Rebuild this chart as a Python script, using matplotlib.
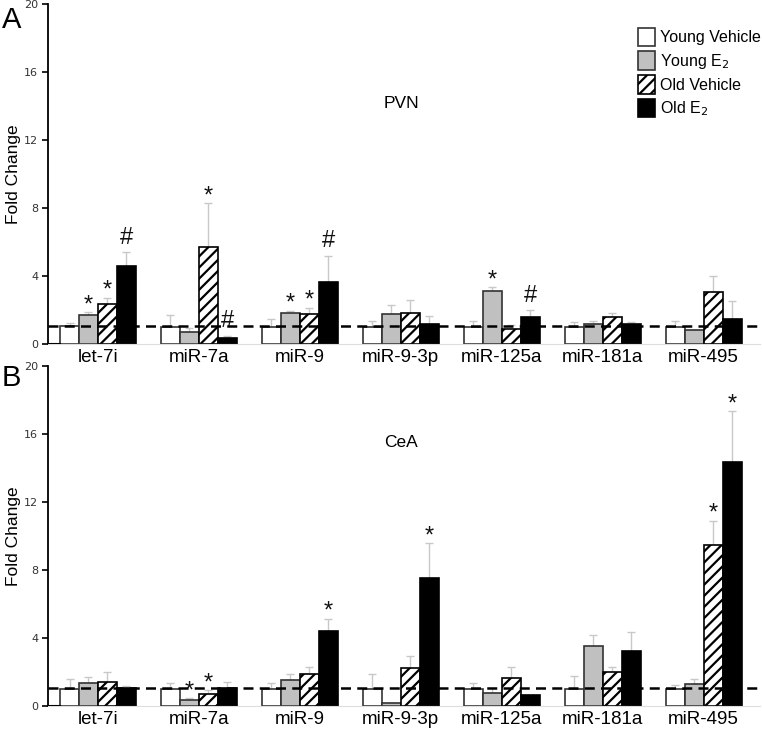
import numpy as np
import matplotlib
matplotlib.use("Agg")
import matplotlib.pyplot as plt
from matplotlib.patches import Patch

plt.rcParams["font.family"] = "Liberation Sans"
plt.rcParams["hatch.linewidth"] = 1.6

# data
mirnas = ["let-7i", "miR-7a", "miR-9", "miR-9-3p", "miR-125a", "miR-181a", "miR-495"]
groups = ["Young Vehicle", "Young E$_2$", "Old Vehicle", "Old E$_2$"]

# PVN means / upper errors (order: young veh, young E2, old veh, old E2)
pvn_young_veh = [1.05, 1.02, 1.0, 1.0, 1.0, 1.0, 1.0]
pvn_young_e2 = [1.71, 0.73, 1.8, 1.76, 3.12, 1.2, 0.82]
pvn_old_veh = [2.35, 5.69, 1.76, 1.8, 0.86, 1.6, 3.06]
pvn_old_e2 = [4.6, 0.35, 3.67, 1.2, 1.6, 1.2, 1.45]
pvn_err_young_veh = [0.2, 0.68, 0.45, 0.37, 0.37, 0.3, 0.37]
pvn_err_young_e2 = [0.19, 0.19, 0.16, 0.54, 0.21, 0.15, 0.0]
pvn_err_old_veh = [0.38, 2.6, 0.39, 0.8, 0.24, 0.2, 0.94]
pvn_err_old_e2 = [0.8, 0.15, 1.53, 0.47, 0.4, 0.1, 1.08]
pvn_marks = [["", "*", "*", "#"], ["", "", "*", "#"], ["", "*", "*", "#"],
             ["", "", "", ""], ["", "*", "", "#"], ["", "", "", ""], ["", "", "", ""]]

# CeA
cea_young_veh = [1.02, 1.0, 1.0, 1.0, 1.0, 1.0, 1.0]
cea_young_e2 = [1.35, 0.37, 1.55, 0.2, 0.77, 3.5, 1.28]
cea_old_veh = [1.39, 0.73, 1.9, 2.22, 1.67, 2.02, 9.46]
cea_old_e2 = [1.06, 1.08, 4.42, 7.55, 0.67, 3.26, 14.35]
cea_err_young_veh = [0.58, 0.35, 0.35, 0.9, 0.35, 0.75, 0.25]
cea_err_young_e2 = [0.35, 0.08, 0.31, 0.0, 0.31, 0.68, 0.32]
cea_err_old_veh = [0.61, 0.19, 0.4, 0.7, 0.63, 0.28, 1.44]
cea_err_old_e2 = [0.14, 0.31, 0.72, 2.03, 0.0, 1.12, 2.98]
cea_marks = [["", "", "", ""], ["", "*", "*", ""], ["", "", "", "*"],
             ["", "", "", "*"], ["", "", "", ""], ["", "", "", ""], ["", "", "*", "*"]]

styles = [
    dict(facecolor="white", edgecolor="#333333", hatch=None),
    dict(facecolor="#c0c0c0", edgecolor="#333333", hatch=None),
    dict(facecolor="white", edgecolor="black", hatch="///"),
    dict(facecolor="black", edgecolor="black", hatch=None),
]

fig = plt.figure(figsize=(7.62, 7.29), dpi=100)
ax_a = fig.add_axes([0.063, 0.528, 0.934, 0.4665])
ax_b = fig.add_axes([0.063, 0.0316, 0.934, 0.4664])

width = 0.188
x = np.arange(len(mirnas))


def draw_panel(ax, means, errs, marks):
    for j, (m, e) in enumerate(zip(means, errs)):
        pos = x + (j - 1.5) * width
        ax.bar(pos, m, width, linewidth=1.2, zorder=2, **styles[j])
        ax.errorbar(pos, m, yerr=[np.zeros(len(e)), e], fmt="none",
                    ecolor="#c8c8c8", elinewidth=1, capsize=3, zorder=1)
        for k in range(len(mirnas)):
            s = marks[k][j]
            if s:
                if s == "#":
                    ax.text(pos[k], m[k] + e[k] + 0.2, s, ha="center", va="bottom",
                            fontsize=17, color="#111111")
                else:
                    ax.text(pos[k], m[k] + e[k] - 0.25, s, ha="center", va="bottom",
                            fontsize=17, color="#111111")
    ax.axhline(1.05, color="black", linestyle=(0, (4, 2.5)), linewidth=1.8, zorder=3)
    ax.set_xlim(-0.495, 6.555)
    ax.set_ylim(0, 20)
    ax.set_yticks([0, 4, 8, 12, 16, 20])
    ax.tick_params(axis="y", direction="out", length=4, width=1.2,
                   labelsize=8, labelcolor="#333333", pad=3)
    ax.set_yticklabels([0, 4, 8, 12, 16, 20], family="DejaVu Sans")
    ax.set_xticks(x)
    ax.set_xticklabels(mirnas, fontsize=13.5)
    ax.tick_params(axis="x", length=0, pad=3.5)
    for side in ["top", "right"]:
        ax.spines[side].set_visible(False)
    ax.spines["left"].set_linewidth(1.3)
    ax.spines["bottom"].set_color("#dddddd")
    ax.axhline(0, xmin=0, xmax=0.017, color="black", linewidth=1.5, zorder=3)
    ax.set_ylabel("Fold Change", fontsize=12.5)
    ax.yaxis.set_label_coords(-0.038, 0.5)


draw_panel(ax_a, [pvn_young_veh, pvn_young_e2, pvn_old_veh, pvn_old_e2],
           [pvn_err_young_veh, pvn_err_young_e2, pvn_err_old_veh, pvn_err_old_e2],
           pvn_marks)
draw_panel(ax_b, [cea_young_veh, cea_young_e2, cea_old_veh, cea_old_e2],
           [cea_err_young_veh, cea_err_young_e2, cea_err_old_veh, cea_err_old_e2],
           cea_marks)

ax_a.text(0.472, 0.706, "PVN", transform=ax_a.transAxes, fontsize=12.5, va="center")
ax_b.text(0.472, 0.774, "CeA", transform=ax_b.transAxes, fontsize=12.5, va="center")

handles = [Patch(label=g, linewidth=1.2, **st) for g, st in zip(groups, styles)]
ax_a.legend(handles=handles, loc="upper right", bbox_to_anchor=(1.002, 0.93),
            frameon=False, fontsize=11.5, handlelength=1.1, handleheight=1.4,
            handletextpad=0.3, labelspacing=0.3, borderaxespad=0, borderpad=0)

fig.text(0.002, 0.972, "A", fontsize=21, va="center")
fig.text(0.002, 0.482, "B", fontsize=21, va="center")

fig.savefig("out.png", dpi=100)
